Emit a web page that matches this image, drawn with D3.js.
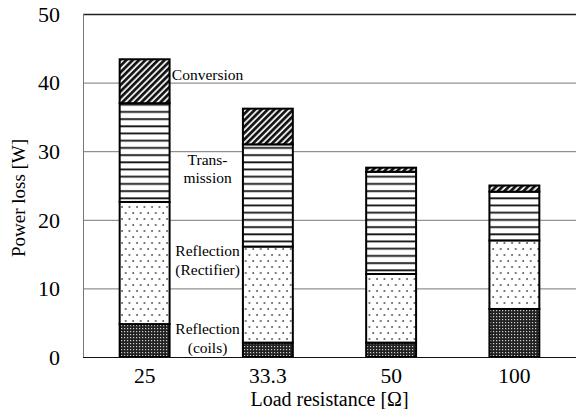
<!DOCTYPE html>
<html>
<head>
<meta charset="utf-8">
<script src="https://cdn.jsdelivr.net/npm/d3@7"></script>
<style>
  body { margin: 0; background: #fff; }
  svg, text, tspan { font-family: "Liberation Serif", "Times New Roman", serif; fill: #000; }
</style>
</head>
<body>
<div id="container"></div>
<script>
/*
    Chart data
*/
var categories = ["25", "33.3", "50", "100"];
var seriesNames = ["coils", "rectifier", "transmission", "conversion"];
var coils        = [4.8, 2.1, 2.1, 7.0];
var rectifier    = [17.8, 14.0, 10.0, 10.0];
var transmission = [14.4, 14.9, 14.9, 7.1];
var conversion   = [6.4, 5.2, 0.6, 0.9];
var yTicks = [0, 10, 20, 30, 40, 50];

// text labels next to the first bar: [line1, line2, y value]
var annotations = [
    ["Conversion", null, 41.2],
    ["Trans-", "mission", 27.6],
    ["Reflection", "(Rectifier)", 14.2],
    ["Reflection", "(coils)", 2.9]
];

var width = 576, height = 409;
var margin = {top: 14, right: 0, bottom: 52, left: 83};

var svg = d3.select("#container").append("svg")
    .attr("width", width)
    .attr("height", height)
    .attr("font-family", "'Liberation Serif', 'Times New Roman', serif");

/*
    Fill patterns for each stack segment
*/
var defs = svg.append("defs");

var pCoils = defs.append("pattern").attr("id", "p-coils")
    .attr("patternUnits", "userSpaceOnUse").attr("width", 3).attr("height", 3);
pCoils.append("rect").attr("width", 3).attr("height", 3).attr("fill", "#222");
pCoils.append("rect").attr("x", 1).attr("y", 1).attr("width", 1.2).attr("height", 1.2).attr("fill", "#d0d0d0");

var pRect = defs.append("pattern").attr("id", "p-rectifier")
    .attr("patternUnits", "userSpaceOnUse").attr("width", 7.5).attr("height", 12);
pRect.append("rect").attr("width", 7.5).attr("height", 12).attr("fill", "#fff");
pRect.append("circle").attr("cx", 2).attr("cy", 3).attr("r", 0.9).attr("fill", "#444");
pRect.append("circle").attr("cx", 5.75).attr("cy", 9).attr("r", 0.9).attr("fill", "#444");

var pTrans = defs.append("pattern").attr("id", "p-transmission")
    .attr("patternUnits", "userSpaceOnUse").attr("width", 10).attr("height", 7.2);
pTrans.append("rect").attr("width", 10).attr("height", 7.2).attr("fill", "#fff");
pTrans.append("rect").attr("y", 3).attr("width", 10).attr("height", 1.8).attr("fill", "#111");

var pConv = defs.append("pattern").attr("id", "p-conversion")
    .attr("patternUnits", "userSpaceOnUse").attr("width", 4.5).attr("height", 4.5)
    .attr("patternTransform", "rotate(45)");
pConv.append("rect").attr("width", 4.5).attr("height", 4.5).attr("fill", "#e8e8e8");
pConv.append("rect").attr("width", 2.6).attr("height", 4.5).attr("fill", "#111");

/*
    Scales
*/
var x = d3.scaleBand()
    .domain(categories)
    .range([margin.left, width - margin.right])
    .paddingInner(0.595)
    .paddingOuter(0.2975);

var y = d3.scaleLinear()
    .domain([0, 50])
    .range([height - margin.bottom, margin.top]);

/*
    Gridlines
*/
svg.append("g")
    .selectAll("line")
    .data(yTicks.filter(function (d) { return d > 0; }))
    .enter().append("line")
    .attr("x1", margin.left)
    .attr("x2", width - margin.right)
    .attr("y1", function (d) { return y(d) + 0.5; })
    .attr("y2", function (d) { return y(d) + 0.5; })
    .attr("stroke", function (d) { return d == 50 ? "#222" : "#777"; })
    .attr("stroke-width", function (d) { return d == 50 ? 1.6 : 1; });

// y axis line
svg.append("line")
    .attr("x1", margin.left + 0.5).attr("x2", margin.left + 0.5)
    .attr("y1", y(50)).attr("y2", y(0))
    .attr("stroke", "#777").attr("stroke-width", 1);

/*
    Stacked bars
*/
var table = categories.map(function (c, i) {
    return {cat: c, coils: coils[i], rectifier: rectifier[i],
            transmission: transmission[i], conversion: conversion[i]};
});
var stacked = d3.stack().keys(seriesNames)(table);

svg.append("g")
    .selectAll("g")
    .data(stacked)
    .enter().append("g")
    .attr("fill", function (d) { return "url(#p-" + d.key + ")"; })
    .selectAll("rect")
    .data(function (d) { return d; })
    .enter().append("rect")
    .attr("x", function (d) { return x(d.data.cat); })
    .attr("width", x.bandwidth())
    .attr("y", function (d) { return y(d[1]); })
    .attr("height", function (d) { return y(d[0]) - y(d[1]); })
    .attr("stroke", "#000")
    .attr("stroke-width", 2);

// x axis line
svg.append("line")
    .attr("x1", margin.left).attr("x2", width - margin.right)
    .attr("y1", y(0) + 0.5).attr("y2", y(0) + 0.5)
    .attr("stroke", "#111").attr("stroke-width", 1.2);

/*
    Tick labels
*/
svg.append("g")
    .selectAll("text")
    .data(yTicks)
    .enter().append("text")
    .attr("x", 60)
    .attr("y", function (d) { return y(d); })
    .attr("dy", "0.35em")
    .attr("text-anchor", "end")
    .style("font-size", "22px")
    .text(function (d) { return d; });

svg.append("g")
    .selectAll("text")
    .data(categories)
    .enter().append("text")
    .attr("x", function (d) { return x(d) + x.bandwidth() / 2; })
    .attr("y", 382.5)
    .attr("text-anchor", "middle")
    .style("font-size", "21.5px")
    .text(function (d) { return d; });

/*
    Axis titles
*/
svg.append("text")
    .attr("x", (margin.left + width - margin.right) / 2)
    .attr("y", 405.5)
    .attr("text-anchor", "middle")
    .style("font-size", "20px")
    .text("Load resistance [Ω]");

svg.append("text")
    .attr("transform", "translate(25," + 198 + ") rotate(-90)")
    .attr("text-anchor", "middle")
    .style("font-size", "19px")
    .text("Power loss [W]");

/*
    Segment annotations beside the first bar
*/
var ax = x(categories[0]) + x.bandwidth();
var ann = svg.append("g").selectAll("text")
    .data(annotations)
    .enter().append("text")
    .attr("x", ax + 38)
    .attr("y", function (d) { return y(d[2]); })
    .attr("text-anchor", "middle")
    .style("font-size", "15.5px");

ann.append("tspan")
    .attr("x", ax + 38)
    .attr("dy", function (d) { return d[1] ? "-0.2em" : "0.35em"; })
    .text(function (d) { return d[0]; });

ann.append("tspan")
    .attr("x", ax + 38)
    .attr("dy", "1.2em")
    .text(function (d) { return d[1] || ""; });
</script>
</body>
</html>
